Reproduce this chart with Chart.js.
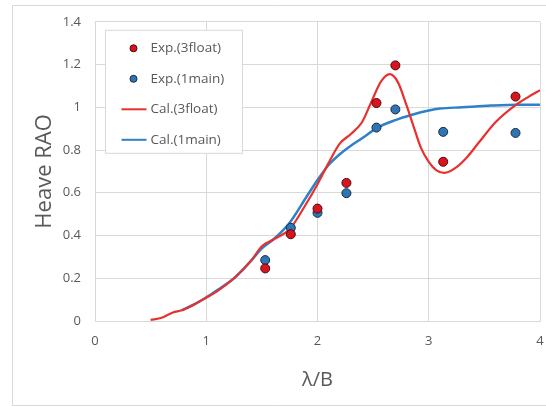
<!DOCTYPE html>
<html>
<head>
<meta charset="utf-8">
<script src="https://cdn.jsdelivr.net/npm/chart.js@4"></script>
<style>
  html, body { margin: 0; padding: 0; background: #fff; }
  #wrap { position: relative; width: 546px; height: 407px; }
</style>
</head>
<body>
<div id="wrap"><canvas id="raoChart" width="546" height="407"></canvas></div>
<script>
// ========== DATA ==========
const expX = [1.53, 1.76, 2.0, 2.26, 2.53, 2.70, 3.13, 3.78];
const exp3floatY = [0.246, 0.406, 0.526, 0.646, 1.02, 1.196, 0.745, 1.05];
const exp1mainY = [0.285, 0.436, 0.506, 0.598, 0.905, 0.99, 0.885, 0.88];

const cal3floatX = [0.5, 0.6, 0.7, 0.78, 0.9, 1.0, 1.1, 1.25, 1.4, 1.5, 1.6, 1.75, 1.9, 2.0, 2.1, 2.2, 2.3, 2.4, 2.48, 2.57, 2.65, 2.72, 2.8, 2.87, 2.93, 3.0, 3.07, 3.14, 3.25, 3.35, 3.45, 3.6, 3.78, 3.9, 4.0];
const cal3floatY = [0.005, 0.015, 0.04, 0.05, 0.08, 0.11, 0.14, 0.2, 0.28, 0.35, 0.38, 0.43, 0.55, 0.64, 0.74, 0.83, 0.875, 0.93, 1.02, 1.12, 1.155, 1.12, 1.01, 0.9, 0.81, 0.745, 0.705, 0.693, 0.72, 0.77, 0.835, 0.93, 1.01, 1.05, 1.08];

const cal1mainX = [0.78, 0.9, 1.0, 1.1, 1.25, 1.4, 1.5, 1.6, 1.75, 1.9, 2.0, 2.1, 2.2, 2.3, 2.4, 2.54, 2.7, 2.85, 3.0, 3.1, 3.3, 3.56, 3.8, 4.0];
const cal1mainY = [0.05, 0.08, 0.11, 0.145, 0.2, 0.28, 0.34, 0.38, 0.46, 0.58, 0.66, 0.73, 0.78, 0.82, 0.855, 0.905, 0.94, 0.965, 0.985, 0.994, 1.0, 1.008, 1.012, 1.012];

const xTickLabels = ['0', '1', '2', '3', '4'];
const yTickLabels = ['0', '0.2', '0.4', '0.6', '0.8', '1', '1.2', '1.4'];

const zip = (xs, ys) => xs.map((x, i) => ({ x, y: ys[i] }));

// ========== COLORS / FONTS ==========
const RED = '#e8312f', RED_FILL = '#d9141e', RED_EDGE = '#4a0a0a';
const BLUE = '#2e80c8', BLUE_FILL = '#2e75b6', BLUE_EDGE = '#1b2a40';
const GRID = '#d9d9d9', TEXT = '#595959';
const FONT = 'Open Sans';

// ========== PLUGINS ==========
// outer chart-area frame, like the spreadsheet chart border
const framePlugin = {
    id: 'frame',
    beforeDraw(chart) {
        const ctx = chart.ctx;
        ctx.save();
        ctx.strokeStyle = GRID;
        ctx.lineWidth = 1;
        ctx.beginPath();
        ctx.moveTo(546, 5.5); ctx.lineTo(12.5, 5.5);
        ctx.lineTo(12.5, 405.5); ctx.lineTo(546, 405.5);
        ctx.stroke();
        ctx.restore();
    }
};

// boxed legend inside the plot, top-left
const boxLegend = {
    id: 'boxLegend',
    afterDraw(chart) {
        const ctx = chart.ctx;
        const area = chart.chartArea;
        const bx = area.left + 10.5, by = area.top + 8.5, bw = 137, bh = 123;
        ctx.save();
        ctx.fillStyle = '#fff';
        ctx.fillRect(bx, by, bw, bh);
        ctx.strokeStyle = GRID;
        ctx.lineWidth = 1;
        ctx.strokeRect(bx, by, bw, bh);

        const order = [0, 1, 2, 3];
        ctx.font = '13.5px "' + FONT + '"';
        ctx.textBaseline = 'middle';
        ctx.textAlign = 'left';
        order.forEach((di, row) => {
            const ds = chart.data.datasets[di];
            const cy = by + 18 + row * 30.5;
            const mx = bx + 28;
            if (ds.showLine) {
                ctx.strokeStyle = ds.borderColor;
                ctx.lineWidth = 2;
                ctx.beginPath();
                ctx.moveTo(mx - 12, cy); ctx.lineTo(mx + 13, cy);
                ctx.stroke();
            } else {
                ctx.fillStyle = ds.backgroundColor;
                ctx.strokeStyle = ds.borderColor;
                ctx.lineWidth = 1;
                ctx.beginPath();
                ctx.arc(mx, cy, 3.5, 0, Math.PI * 2);
                ctx.fill();
                ctx.stroke();
            }
            ctx.fillStyle = TEXT;
            ctx.fillText(ds.label, mx + 17, cy);
        });
        ctx.restore();
    }
};

// ========== CHART ==========
new Chart(document.getElementById('raoChart'), {
    type: 'scatter',
    data: {
        datasets: [
            { label: 'Exp.(3float)', data: zip(expX, exp3floatY), backgroundColor: RED_FILL, borderColor: RED_EDGE, borderWidth: 1, pointRadius: 4.5, order: 0 },
            { label: 'Exp.(1main)', data: zip(expX, exp1mainY), backgroundColor: BLUE_FILL, borderColor: BLUE_EDGE, borderWidth: 1, pointRadius: 4.5, order: 0 },
            { label: 'Cal.(3float)', data: zip(cal3floatX, cal3floatY), showLine: true, borderColor: RED, backgroundColor: RED, borderWidth: 2.2, pointRadius: 0, cubicInterpolationMode: 'monotone', order: 1 },
            { label: 'Cal.(1main)', data: zip(cal1mainX, cal1mainY), showLine: true, borderColor: BLUE, backgroundColor: BLUE, borderWidth: 2.5, pointRadius: 0, cubicInterpolationMode: 'monotone', order: 2 }
        ]
    },
    options: {
        responsive: false,
        animation: false,
        layout: { padding: { top: 21, right: 6, bottom: 0, left: 0 } },
        plugins: { legend: { display: false }, tooltip: { enabled: false } },
        scales: {
            x: {
                type: 'linear', min: 0, max: 4,
                ticks: { stepSize: 1, color: TEXT, font: { family: FONT, size: 13 }, padding: 12,
                    callback: (v, i) => xTickLabels[i] },
                grid: { color: GRID, drawTicks: false },
                border: { color: GRID },
                title: { display: true, text: 'λ/B', color: TEXT, font: { family: FONT, size: 20 }, padding: { top: 0, bottom: 15 } },
                afterFit: s => { s.height = 86; s.paddingRight = 0; s.paddingLeft = 0; }
            },
            y: {
                min: 0, max: 1.4,
                ticks: { stepSize: 0.2, color: TEXT, font: { family: FONT, size: 13 }, padding: 14,
                    callback: (v, i) => yTickLabels[i] },
                grid: { color: GRID, drawTicks: false },
                border: { color: GRID },
                title: { display: true, text: 'Heave RAO', color: TEXT, font: { family: FONT, size: 22 }, padding: { top: 32, bottom: 0 } },
                afterFit: s => { s.width = 95; }
            }
        }
    },
    plugins: [framePlugin, boxLegend]
});
</script>
</body>
</html>
